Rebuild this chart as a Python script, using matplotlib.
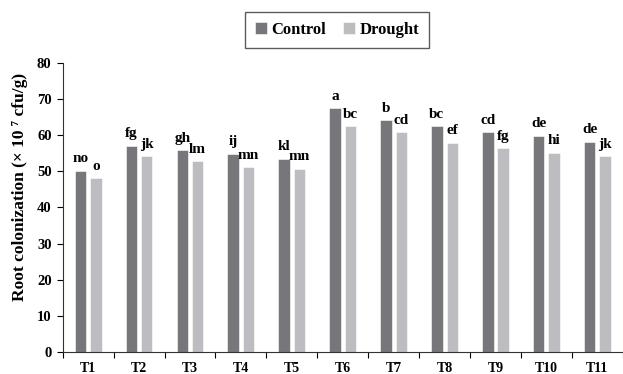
import matplotlib
matplotlib.use("Agg")
import matplotlib.pyplot as plt
import numpy as np

categories = ["T1", "T2", "T3", "T4", "T5", "T6", "T7", "T8", "T9", "T10", "T11"]
control = [50.1, 57.1, 55.8, 54.8, 53.4, 67.4, 64.1, 62.4, 60.8, 59.8, 58.1]
drought = [48.1, 54.1, 52.8, 51.1, 50.7, 62.4, 60.8, 57.8, 56.4, 55.1, 54.1]
control_letters = ["no", "fg", "gh", "ij", "kl", "a", "b", "bc", "cd", "de", "de"]
drought_letters = ["o", "jk", "lm", "mn", "mn", "bc", "cd", "ef", "fg", "hi", "jk"]
series_names = ["Control", "Drought"]
yticks = [0, 10, 20, 30, 40, 50, 60, 70, 80]

FONT = ["Liberation Serif", "DejaVu Serif"]
plt.rcParams["font.family"] = FONT
plt.rcParams["font.weight"] = "bold"

fig = plt.figure(figsize=(6.23, 3.74), dpi=100)
ax = fig.add_axes([0.1006, 0.058, 0.899, 0.7744])

x = np.arange(len(categories))
w = 0.225
off = 0.151
c_col = "#77777b"
d_col = "#bdbdc1"
b1 = ax.bar(x - off, control, w, color=c_col, edgecolor="white", linewidth=0.4, label=series_names[0])
b2 = ax.bar(x + off, drought, w, color=d_col, edgecolor="white", linewidth=0.4, label=series_names[1])

for xi, v, t in zip(x, control, control_letters):
    ax.annotate(t, (xi - off, v), xytext=(0, 4), textcoords="offset points",
                ha="center", va="bottom", fontsize=11, fontweight="bold")
for xi, v, t in zip(x, drought, drought_letters):
    ax.annotate(t, (xi + off, v), xytext=(0, 4), textcoords="offset points",
                ha="center", va="bottom", fontsize=11, fontweight="bold")

ax.set_xlim(-0.5, len(categories) - 0.5)
ax.set_ylim(0, 80)
ax.set_yticks(yticks)
ax.set_yticklabels([str(t) for t in yticks], fontsize=10.5, fontweight="bold")
ax.set_xticks(x)
ax.set_xticklabels(categories, fontsize=10, fontweight="bold")
ax.set_xticks(np.arange(len(categories) + 1) - 0.5, minor=True)
ax.tick_params(axis="x", which="major", length=0, pad=7)
ax.tick_params(axis="x", which="minor", length=4, width=0.8, direction="out")
ax.tick_params(axis="y", length=4, width=0.8, direction="out", pad=4)

for s in ["top", "right"]:
    ax.spines[s].set_visible(False)
for s in ["left", "bottom"]:
    ax.spines[s].set_linewidth(0.8)
    ax.spines[s].set_color("#333333")

fig.text(0.032, 0.5, "Root colonization (× 10 ⁷ cfu/g)", rotation=90,
         ha="center", va="center", fontsize=12.5, fontweight="bold")

leg = fig.legend(handles=[b1, b2], loc="center", bbox_to_anchor=(0.541, 0.92),
                 ncol=2, frameon=True, fancybox=False,
                 prop={"weight": "bold", "size": 12, "family": FONT},
                 handlelength=0.7, handleheight=0.7, handletextpad=0.3,
                 columnspacing=1.0, borderpad=0.6)
leg.get_frame().set_edgecolor("#333333")
leg.get_frame().set_linewidth(1.0)

fig.savefig("out.png", dpi=100)
